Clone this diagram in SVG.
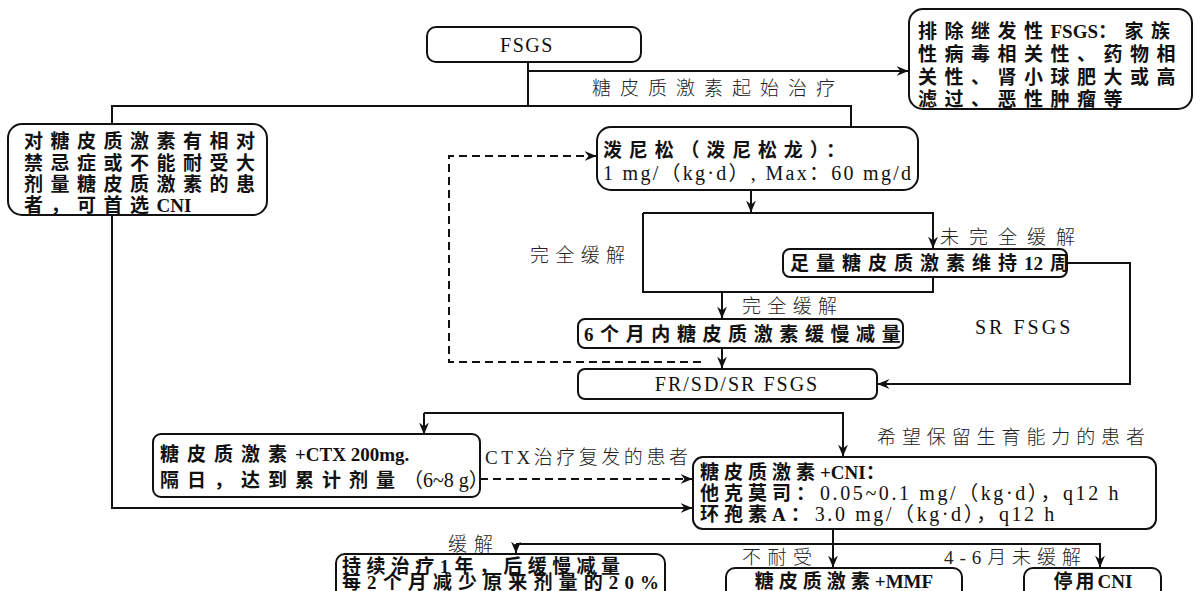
<svg xmlns="http://www.w3.org/2000/svg" width="1201" height="591" viewBox="0 0 1201 591">
<defs>
<marker id="ah" viewBox="0 0 12 10" refX="11.5" refY="5" markerWidth="12" markerHeight="10" orient="auto" markerUnits="userSpaceOnUse"><path d="M0,0 L12,5 L0,10 L4,5 z" fill="#111"/></marker>
<style>
.box{fill:#fff;stroke:#111;stroke-width:2}
.ln{fill:none;stroke:#111;stroke-width:2}
.dash{stroke-dasharray:8 5}
.b{font-family:"Liberation Serif","Noto Sans CJK SC",serif;font-weight:700;font-size:19px;fill:#111}
.lab{font-family:"Liberation Serif","Noto Sans CJK SC",serif;font-weight:300;font-size:19px;fill:#222}
.s{font-family:"Liberation Serif","Noto Sans CJK SC",serif;font-weight:400;font-size:20px;fill:#111}
text{dominant-baseline:central}
</style>
</defs>

<g id="connectors">
<path class="ln" d="M528,62 V106"/>
<path class="ln" d="M528,71 H908" marker-end="url(#ah)"/>
<path class="ln" d="M112,124 V106 H851 V127"/>
<path class="ln" d="M751,190 V212" marker-end="url(#ah)"/>
<path class="ln" d="M643,213 H933 V248" marker-end="url(#ah)"/>
<path class="ln" d="M643,213 V292 H933 V277"/>
<path class="ln" d="M722,292 V318" marker-end="url(#ah)"/>
<path class="ln" d="M722,348 V368" marker-end="url(#ah)"/>
<path class="ln dash" d="M701,362 H449 V156 H596" marker-end="url(#ah)"/>
<path class="ln" d="M1067,263 H1130 V384 H878" marker-end="url(#ah)"/>
<path class="ln" d="M424,413 H843 V456" marker-end="url(#ah)"/>
<path class="ln" d="M424,413 V434" marker-end="url(#ah)"/>
<path class="ln dash" d="M480,479 H692" marker-end="url(#ah)"/>
<path class="ln" d="M112,215 V508 H692" marker-end="url(#ah)"/>
<path class="ln" d="M833,529 V567" marker-end="url(#ah)"/>
<path class="ln" d="M516,544 H1100 V567" marker-end="url(#ah)"/>
<path class="ln" d="M516,544 V553" marker-end="url(#ah)"/>
<text class="lab" x="592" y="88" textLength="243" lengthAdjust="spacing">糖皮质激素起始治疗</text>
<text class="lab" x="530" y="255" textLength="95" lengthAdjust="spacing">完全缓解</text>
<text class="lab" x="742" y="306" textLength="95" lengthAdjust="spacing">完全缓解</text>
<text class="lab" x="940" y="237" textLength="135" lengthAdjust="spacing">未完全缓解</text>
<text class="s" x="975" y="327" font-size="19" letter-spacing="3">SR  FSGS</text>
<text class="lab" x="485" y="457" textLength="203" lengthAdjust="spacing">CTX治疗复发的患者</text>
<text class="lab" x="877" y="437" textLength="268" lengthAdjust="spacing">希望保留生育能力的患者</text>
<text class="lab" x="448" y="544" font-size="18" textLength="45" lengthAdjust="spacing">缓解</text>
<text class="lab" x="742" y="557" font-size="18" textLength="70" lengthAdjust="spacing">不耐受</text>
<text class="lab" x="944" y="557" font-size="18" textLength="137" lengthAdjust="spacing">4-6月未缓解</text>
</g>

<g id="n-fsgs">
<rect class="box" x="427" y="27" width="214" height="35" rx="9"/>
<text class="s" x="527" y="45" text-anchor="middle" font-size="19" letter-spacing="1.5">FSGS</text>
</g>

<g id="n-exclude">
<rect class="box" x="909" y="9" width="283" height="100" rx="14"/>
<text class="b" x="918" y="31" letter-spacing="7.5">排除继发性<tspan letter-spacing="0">FSGS</tspan><tspan letter-spacing="7.5">：家族</tspan></text>
<text class="b" x="918" y="54" letter-spacing="7.5">性病毒相关性、药物相</text>
<text class="b" x="918" y="77" letter-spacing="7.5">关性、肾小球肥大或高</text>
<text class="b" x="918" y="99" letter-spacing="7.5">滤过、恶性肿瘤等</text>
</g>

<g id="n-contra">
<rect class="box" x="8" y="124" width="259" height="91" rx="14"/>
<text class="b" x="24" y="141" letter-spacing="7.5">对糖皮质激素有相对</text>
<text class="b" x="24" y="163" letter-spacing="7.5">禁忌症或不能耐受大</text>
<text class="b" x="24" y="184" letter-spacing="7.5">剂量糖皮质激素的患</text>
<text class="b" x="24" y="205" letter-spacing="7.5">者，可首选<tspan letter-spacing="0">CNI</tspan></text>
</g>

<g id="n-pred">
<rect class="box" x="597" y="127" width="321" height="63" rx="14"/>
<text class="b" x="603" y="150" textLength="242" lengthAdjust="spacing">泼尼松（泼尼松龙）：</text>
<text class="s" x="603" y="173" font-size="21" textLength="308" lengthAdjust="spacing">1 mg/（kg·d）, Max：60 mg/d</text>
</g>

<g id="n-full12">
<rect class="box" x="783" y="249" width="284" height="28" rx="7"/>
<text class="b" x="790" y="263" font-size="18" letter-spacing="7">足量糖皮质激素维持<tspan letter-spacing="0">1</tspan>2周</text>
</g>

<g id="n-taper6">
<rect class="box" x="578" y="319" width="325" height="29" rx="7"/>
<text class="b" x="584" y="334" font-size="18" letter-spacing="6.6">6个月内糖皮质激素缓慢减量</text>
</g>

<g id="n-fr">
<rect class="box" x="578" y="369" width="299" height="30" rx="7"/>
<text class="s" x="737" y="384" text-anchor="middle" font-size="19" letter-spacing="2">FR/SD/SR  FSGS</text>
</g>

<g id="n-ctx">
<rect class="box" x="153" y="434" width="327" height="63" rx="8"/>
<text class="b" x="160" y="454" font-size="18" letter-spacing="8">糖皮质激素<tspan letter-spacing="0">+CTX  200mg.</tspan></text>
<text class="b" x="160" y="480" font-size="18" letter-spacing="8">隔日，达到累计剂量<tspan class="s" font-size="22" font-weight="400" letter-spacing="0">（6~8 g）</tspan></text>
</g>

<g id="n-cni">
<rect class="box" x="693" y="457" width="463" height="72" rx="10"/>
<text class="b" x="700" y="472" font-size="17" letter-spacing="5">糖皮质激素<tspan letter-spacing="0">+CNI：</tspan></text>
<text class="b" x="700" y="493" font-size="17" letter-spacing="5">他克莫司：<tspan class="s" font-size="22" font-weight="400" letter-spacing="2.6">0.05~0.1 mg/（kg·d），q12 h</tspan></text>
<text class="b" x="700" y="514" font-size="17" letter-spacing="5">环孢素A：<tspan class="s" font-size="22" font-weight="400" letter-spacing="2.6">3.0 mg/（kg·d），q12 h</tspan></text>
</g>

<g id="n-continue">
<rect class="box" x="336" y="554" width="329" height="48" rx="9"/>
<text class="b" x="342" y="566" font-size="12.5" textLength="278" lengthAdjust="spacing">持续治疗1年，后缓慢减量</text>
<text class="b" x="342" y="582" font-size="12.5" textLength="317" lengthAdjust="spacing">每2个月减少原来剂量的20%</text>
</g>

<g id="n-mmf">
<rect class="box" x="726" y="568" width="236" height="40" rx="9"/>
<text class="b" x="844" y="581" font-size="17" text-anchor="middle" letter-spacing="5">糖皮质激素<tspan letter-spacing="0">+MMF</tspan></text>
</g>

<g id="n-stop">
<rect class="box" x="1024" y="568" width="137" height="40" rx="9"/>
<text class="b" x="1093" y="581" font-size="17" text-anchor="middle" letter-spacing="3">停用<tspan letter-spacing="0">CNI</tspan></text>
</g>
</svg>
